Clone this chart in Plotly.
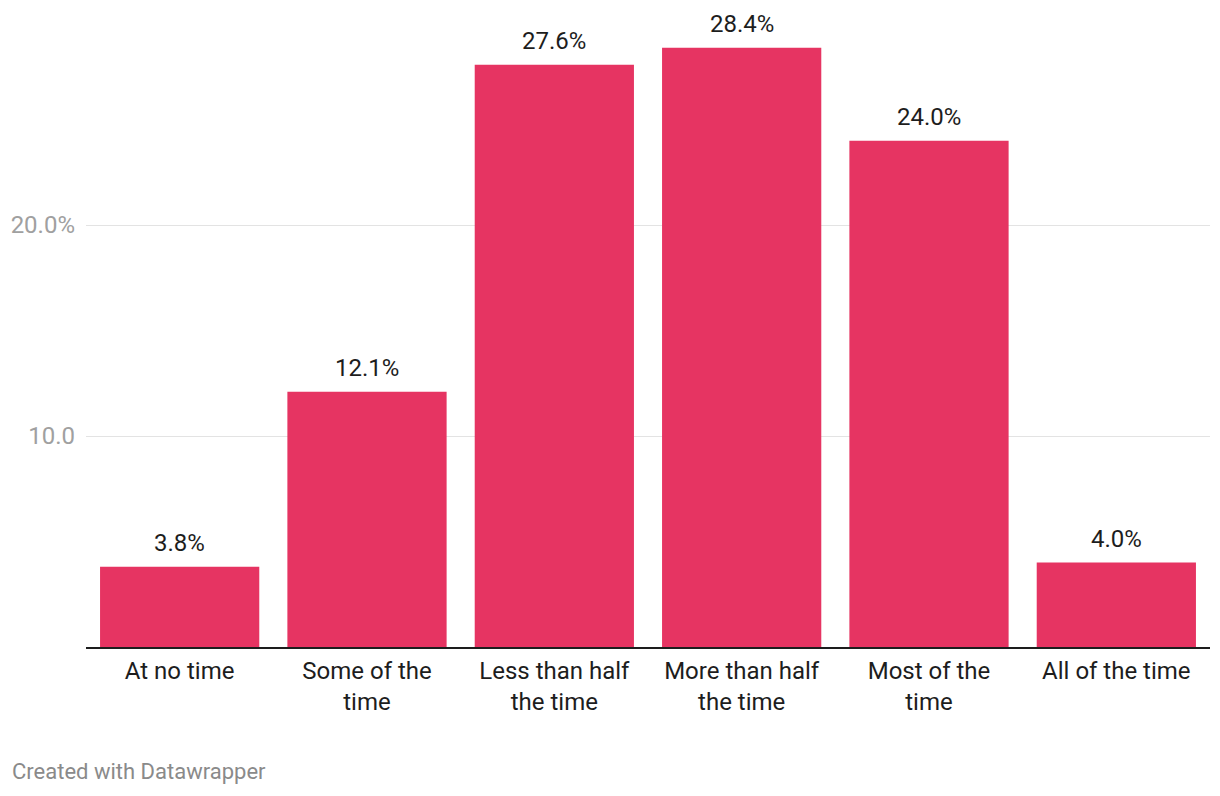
import plotly.graph_objects as go

# ─── Data ────────────────────────────────────────────────────────────────────

categories = [
    "At no time",
    "Some of the<br>time",
    "Less than half<br>the time",
    "More than half<br>the time",
    "Most of the<br>time",
    "All of the time",
]
shares = [3.8, 12.1, 27.6, 28.4, 24.0, 4.0]
tick_vals = [10, 20]
tick_text = ["10.0", "20.0%"]

BAR_COLOR = "#e63462"
FONT = "Roboto, sans-serif"

# page body has an 8px default margin, so the figure is sized 8px smaller
W, H = 1212, 788
L, R, T, B = 78, 10, 12, 149

fig = go.Figure(go.Bar(
    x=categories,
    y=shares,
    marker_color=BAR_COLOR,
    marker_line_width=0,
    hoverinfo="skip",
))

# value labels above bars
for cat, val in zip(categories, shares):
    fig.add_annotation(
        x=cat, y=val, text=f"{val:.1f}%",
        showarrow=False, yanchor="bottom", yshift=8,
        font=dict(family=FONT, size=24, color="#1d1d1d"),
    )

plot_w = W - L - R
plot_h = H - T - B
fig.add_annotation(
    text="Created with Datawrapper",
    xref="paper", yref="paper", x=(2 - L) / plot_w, y=-(764 - (H - B)) / plot_h,
    xanchor="left", yanchor="middle", showarrow=False,
    font=dict(family=FONT, size=22, color="#8a8a8a"),
)

fig.update_layout(
    width=W, height=H,
    paper_bgcolor="white",
    plot_bgcolor="white",
    font=dict(family=FONT, color="#1d1d1d", size=24),
    margin=dict(l=L, r=R, t=T, b=B, autoexpand=False),
    showlegend=False,
    bargap=0.15,
    xaxis=dict(
        showline=True, linecolor="#1d1d1d", linewidth=2,
        ticks="", tickfont=dict(size=24, color="#1d1d1d"),
        ticklabelstandoff=1,
        automargin=False,
        fixedrange=True,
    ),
    yaxis=dict(
        range=[0, 29.72],
        tickvals=tick_vals, ticktext=tick_text,
        tickfont=dict(size=24, color="#a0a0a0"),
        gridcolor="#e3e3e3", gridwidth=1,
        zeroline=False, ticks="",
        ticklabelstandoff=10,
        automargin=False,
        fixedrange=True,
    ),
)

fig.write_html("out.html")
